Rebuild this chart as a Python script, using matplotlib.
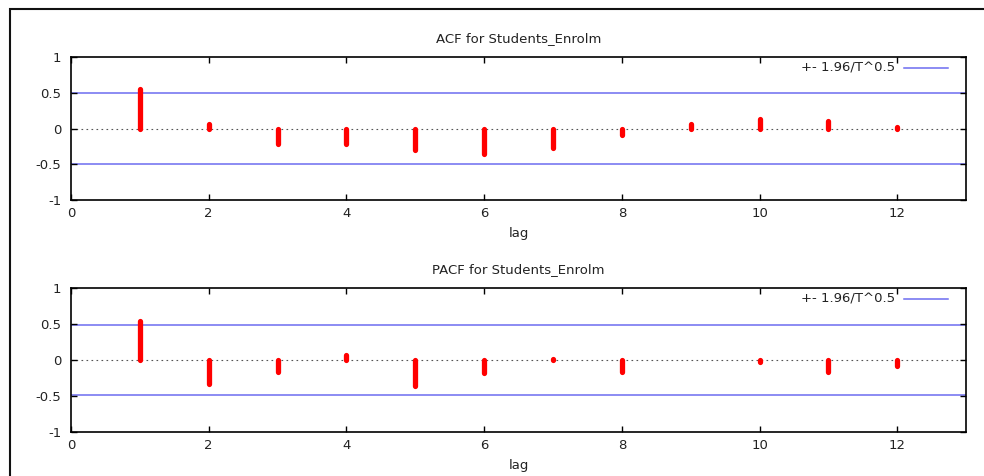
import numpy as np
import matplotlib
matplotlib.use('Agg')
import matplotlib.pyplot as plt
from matplotlib.patches import Rectangle


# ─── Data ─────────────────────────────────────────────────────────────────────

lags = [1, 2, 3, 4, 5, 6, 7, 8, 9, 10, 11, 12]
acf_values = [0.55, 0.07, -0.22, -0.22, -0.30, -0.35, -0.27, -0.09, 0.07, 0.14, 0.11, 0.02]
pacf_values = [0.54, -0.33, -0.17, 0.07, -0.36, -0.18, 0.01, -0.165, 0.005, -0.03, -0.17, -0.08]
conf_band = 0.49   # +- 1.96/T^0.5

titles = ['ACF for Students_Enrolm', 'PACF for Students_Enrolm']
legend_label = '+- 1.96/T^0.5'
x_ticks = [0, 2, 4, 6, 8, 10, 12]
y_ticks = [-1, -0.5, 0, 0.5, 1]
y_tick_labels = ['-1', '-0.5', '0', '0.5', '1']


# ─── Style ────────────────────────────────────────────────────────────────────

plt.rcParams['font.family'] = 'DejaVu Sans'
FS = 9.5
TEXT_COLOR = '#222222'
BAR_COLOR = '#ff0000'
BAND_COLOR = '#6c6cf0'


def draw_panel(ax, values, title):
    ax.set_xlim(0, 13)
    ax.set_ylim(-1, 1)

    ax.axhline(conf_band, color=BAND_COLOR, lw=1.1, zorder=1)
    ax.axhline(-conf_band, color=BAND_COLOR, lw=1.1, zorder=1)
    ax.axhline(0, color='#555555', lw=0.8, ls=(0, (1.5, 3)), zorder=1)

    for lag, v in zip(lags, values):
        ax.plot([lag, lag], [0, v], color=BAR_COLOR, lw=3.8,
                solid_capstyle='round', zorder=3)

    # legend entry drawn gnuplot style in the upper right corner
    ax.text(0.921, 0.923, legend_label, transform=ax.transAxes, ha='right',
            va='center', fontsize=FS, color=TEXT_COLOR)
    ax.plot([0.931, 0.980], [0.923, 0.923], transform=ax.transAxes,
            color=BAND_COLOR, lw=1.1)

    ax.set_xticks(x_ticks)
    ax.set_yticks(y_ticks)
    ax.set_yticklabels(y_tick_labels)
    ax.tick_params(direction='in', length=4, width=1, labelsize=FS,
                   top=True, right=True, labelcolor=TEXT_COLOR)
    ax.tick_params(axis='y', pad=7)
    ax.tick_params(axis='x', pad=5)
    for s in ax.spines.values():
        s.set_linewidth(1.2)

    ax.set_title(title, fontsize=FS, color=TEXT_COLOR, pad=11)
    ax.set_xlabel('lag', fontsize=FS, color=TEXT_COLOR, labelpad=5)


fig = plt.figure(figsize=(9.84, 4.76), dpi=100)

ax1 = fig.add_axes([0.0722, 0.5798, 0.9096, 0.3004])
ax2 = fig.add_axes([0.0722, 0.0924, 0.9096, 0.3025])

draw_panel(ax1, acf_values, titles[0])
draw_panel(ax2, pacf_values, titles[1])

# outer frame, running off the right and bottom edges
fig.patches.append(Rectangle((10 / 984, -0.05), 1.0, 1 - 9 / 476 + 0.05,
                             transform=fig.transFigure, fill=False,
                             edgecolor='#111111', lw=1.5))

fig.savefig('out.png', dpi=100)
